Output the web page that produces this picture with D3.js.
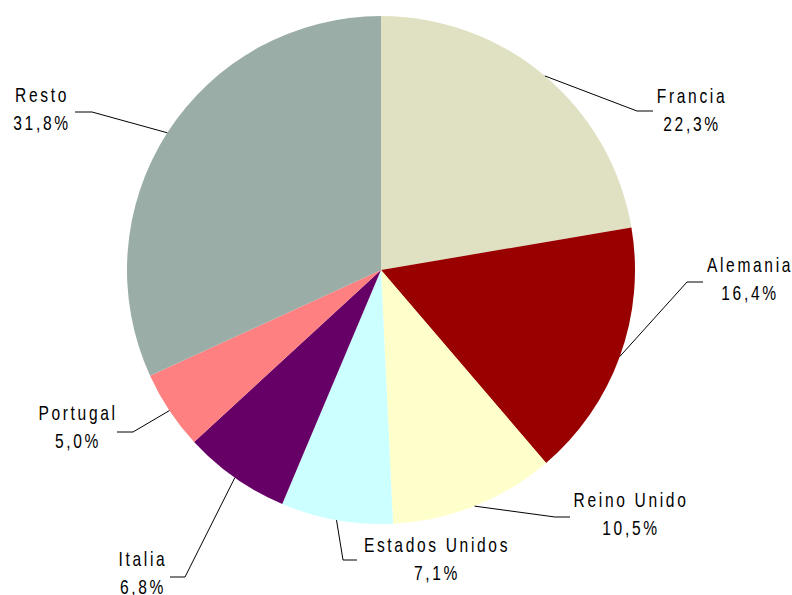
<!DOCTYPE html>
<html>
<head>
<meta charset="utf-8">
<script src="https://cdn.jsdelivr.net/npm/d3@7"></script>
<style>
  html, body { margin: 0; padding: 0; background: #fff; }
  svg { display: block; }
  .lbl { font-family: "Liberation Sans", Arial, sans-serif; font-size: 20.5px; letter-spacing: 3.5px; fill: #000; }
</style>
</head>
<body>
<div id="chart"></div>
<script>
// datos
const categories = ["Francia", "Alemania", "Reino Unido", "Estados Unidos", "Italia", "Portugal", "Resto"];
const values = [22.3, 16.4, 10.5, 7.1, 6.8, 5.0, 31.8];
const valueLabels = ["22,3%", "16,4%", "10,5%", "7,1%", "6,8%", "5,0%", "31,8%"];
const colors = ["#E0E0C2", "#990000", "#FFFFCC", "#CCFFFF", "#660066", "#FF8080", "#9AADA7"];

// posicion de etiquetas: [centro x, linea base, codo x, codo y, fin x]
const labelLayout = [
    [692, 103, 637, 111, 653],
    [750, 272, 687, 282, 703],
    [631, 507, 555, 517, 570],
    [437, 552, 343, 560, 357],
    [143, 566, 185, 577, 170],
    [78, 420, 133, 432, 117],
    [42, 102, 92, 112, 75]
];

const width = 792, height = 595;
const cx = 381, cy = 270, r = 254;
const squeeze = 0.76; // fuente estrecha

const svg = d3.select("#chart").append("svg")
    .attr("width", width)
    .attr("height", height);

const pie = d3.pie().sort(null).value(d => d.value);
const arc = d3.arc().innerRadius(0).outerRadius(r);

const data = categories.map((c, i) => ({ name: c, value: values[i], label: valueLabels[i], color: colors[i] }));
const arcs = pie(data);

const g = svg.append("g").attr("transform", `translate(${cx},${cy})`);

g.selectAll("path.slice")
    .data(arcs)
    .enter().append("path")
    .attr("class", "slice")
    .attr("d", arc)
    .attr("fill", d => d.data.color)

function addLabel(txt, x, y) {
    svg.append("text").attr("class", "lbl")
        .attr("text-anchor", "middle")
        .attr("transform", `translate(${x},${y}) scale(${squeeze},1)`)
        .text(txt);
}

// lineas guia
arcs.forEach((a, i) => {
    const mid = (a.startAngle + a.endAngle) / 2;
    const sx = cx + r * Math.sin(mid), sy = cy - r * Math.cos(mid);
    const [tx, ty, ex, ey, hx] = labelLayout[i];
    svg.append("polyline")
        .attr("points", `${sx},${sy} ${ex},${ey} ${hx},${ey}`)
        .attr("fill", "none")
        .attr("stroke", "#000")
        .attr("stroke-width", 1);

    addLabel(a.data.name, tx, ty);
    addLabel(a.data.label, tx, ty + 28);
});
</script>
</body>
</html>
